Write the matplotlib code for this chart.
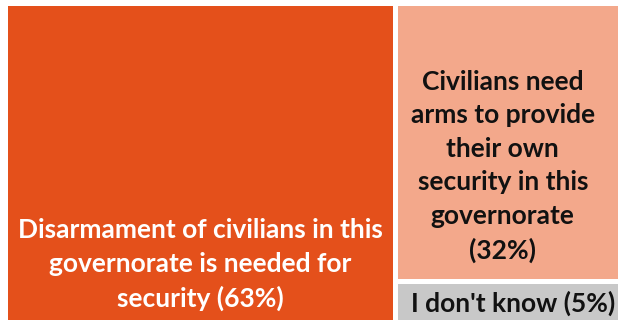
import matplotlib.pyplot as plt
from matplotlib.patches import Rectangle

# survey answers and their shares (%)
labels = [
    "Disarmament of civilians in this\ngovernorate is needed for\nsecurity (63%)",
    "Civilians need\narms to provide\ntheir own\nsecurity in this\ngovernorate\n(32%)",
    "I don't know (5%)",
]
shares = [63, 32, 5]
colors = ["#E4501B", "#F3A88B", "#C8C8C8"]
text_colors = ["white", "#111111", "#111111"]
# label anchor inside each box, as offset from box centre (x) and axis position (y)
label_dx = [0, -1.2, 0.4]
label_y = [18.5, 49.0, 6.4]

plt.rcParams['font.family'] = ['Lato', 'DejaVu Sans']

fig = plt.figure(figsize=(6.18, 3.2), dpi=100)
# treemap runs slightly past the right and bottom edges of the figure
ax = fig.add_axes([4.5 / 618, -4 / 320, 620.5 / 618, 321.5 / 320])
ax.set_xlim(0, 100)
ax.set_ylim(0, 100)
ax.axis('off')

# biggest share takes a full-height column, the rest stack in the remaining column
total = sum(shares)
w0 = 100 * shares[0] / total
rest = sum(shares[1:])
rects = [(0, 0, w0, 100)]
y = 100
for s in shares[1:]:
    h = 100 * s / rest
    y -= h
    rects.append((w0, y, 100 - w0, h))

for (x0, y0, w, h), c, lab, tc, dx, ly in zip(rects, colors, labels, text_colors,
                                              label_dx, label_y):
    ax.add_patch(Rectangle((x0, y0), w, h, facecolor=c, edgecolor='white', linewidth=3.6))
    ax.text(x0 + w / 2 + dx, ly, lab, ha='center', va='center', color=tc,
            fontsize=19, fontweight='bold', linespacing=1.47)

fig.savefig('out.png', dpi=100)
